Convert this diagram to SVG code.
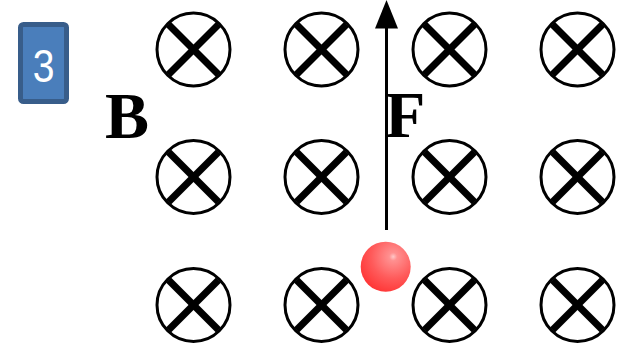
<svg xmlns="http://www.w3.org/2000/svg" width="625" height="350" viewBox="0 0 625 350">
<style>
.ring{fill:none;stroke:#000;stroke-width:3}
.x{stroke:#000;stroke-width:7;stroke-linecap:butt}
.lbl{font-family:"Liberation Serif","Times New Roman",serif;font-weight:bold;font-size:66px;fill:#000}
</style>
<defs>
<g id="cross">
<circle class="ring" cx="0" cy="0" r="36.5"/>
<line class="x" x1="-25" y1="-25" x2="25" y2="25"/>
<line class="x" x1="25" y1="-25" x2="-25" y2="25"/>
</g>
<radialGradient id="ball" cx="0.65" cy="0.3" r="0.8">
<stop offset="0" stop-color="#ffc8c8"/>
<stop offset="0.1" stop-color="#ff9090"/>
<stop offset="0.55" stop-color="#ff5a5a"/>
<stop offset="1" stop-color="#ff3030"/>
</radialGradient>
</defs>
<g id="badge">
<rect x="20.5" y="24.5" width="46" height="77" rx="3" fill="#4a7ebb" stroke="#385d8a" stroke-width="5"/>
<text x="43.5" y="82" font-family="Liberation Sans, Arial, sans-serif" font-size="46" fill="#fff" text-anchor="middle" transform="translate(43.5 0) scale(0.85 1) translate(-43.5 0)">3</text>
</g>
<g id="field">
<use href="#cross" x="193.5" y="49.5"/>
<use href="#cross" x="321.5" y="49.5"/>
<use href="#cross" x="449.5" y="49.5"/>
<use href="#cross" x="577.5" y="49.5"/>
<use href="#cross" x="193.5" y="177"/>
<use href="#cross" x="321.5" y="177"/>
<use href="#cross" x="449.5" y="177"/>
<use href="#cross" x="577.5" y="177"/>
<use href="#cross" x="193.5" y="305"/>
<use href="#cross" x="321.5" y="305"/>
<use href="#cross" x="449.5" y="305"/>
<use href="#cross" x="577.5" y="305"/>
</g>
<g id="label-B"><text class="lbl" x="105" y="138">B</text></g>
<g id="label-F"><text class="lbl" x="385" y="137">F</text></g>
<g id="connectors">
<line x1="386.5" y1="230" x2="386.5" y2="26" stroke="#000" stroke-width="3"/>
<polygon points="386.5,0 375,28.5 398,28.5" fill="#000"/>
</g>
<g id="charge">
<circle cx="385.7" cy="266.7" r="25" fill="url(#ball)"/>
</g>
</svg>
